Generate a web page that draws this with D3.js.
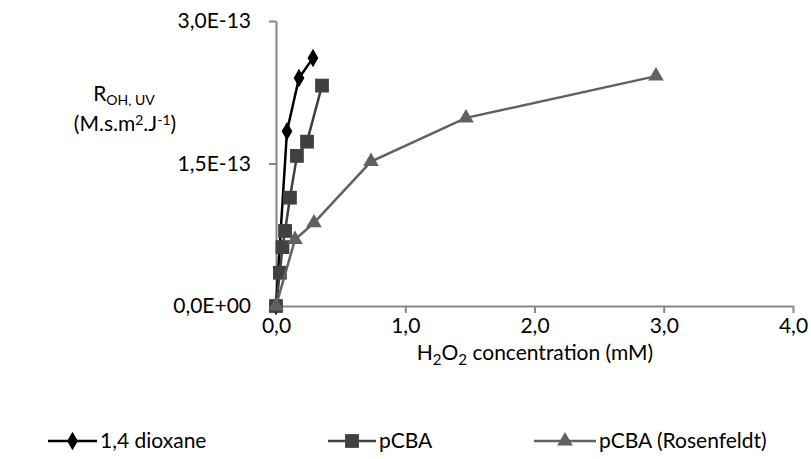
<!DOCTYPE html>
<html>
<head>
<meta charset="utf-8">
<script src="https://cdn.jsdelivr.net/npm/d3@7"></script>
<style>
  body { margin: 0; background: #fff; }
  text { font-family: Lato, "Open Sans", sans-serif; fill: #000; }
</style>
</head>
<body>
<svg width="811" height="459"></svg>
<script>
// values
var dioxaneX = [0, 0.085, 0.178, 0.286];
var dioxaneY = [0, 1.84e-13, 2.40e-13, 2.61e-13];

var pcbaX = [0, 0.03, 0.05, 0.07, 0.108, 0.162, 0.24, 0.356];
var pcbaY = [0, 0.35e-13, 0.62e-13, 0.79e-13, 1.14e-13, 1.58e-13, 1.73e-13, 2.32e-13];

var rosenX = [0, 0.147, 0.294, 0.735, 1.47, 2.94];
var rosenY = [0, 0.70e-13, 0.875e-13, 1.52e-13, 1.98e-13, 2.42e-13];

var xTicks = [0, 1, 2, 3, 4];
var yTicks = [0, 1.5e-13, 3.0e-13];
var yTickLabels = ['0,0E+00', '1,5E-13', '3,0E-13'];

var svg = d3.select('svg');

var x = d3.scaleLinear().domain([0, 4]).range([276, 793]);
var y = d3.scaleLinear().domain([0, 3e-13]).range([306, 21]);

var axisColor = '#868686';
var fs = 21;

// x axis
var xAxis = svg.append('g')
  .attr('transform', 'translate(0,' + y(0) + ')')
  .call(d3.axisBottom(x).tickValues(xTicks).tickSize(7).tickSizeOuter(0)
    .tickFormat(function (d) { return d3.format('.1f')(d).replace('.', ','); }));
xAxis.select('.domain').attr('stroke', axisColor).attr('stroke-width', 2);
xAxis.selectAll('.tick line').attr('stroke', axisColor).attr('stroke-width', 2);
xAxis.selectAll('.tick text').attr('font-size', fs).attr('y', 9).attr('dy', '0.85em').attr('font-family', 'Lato');

// y axis
var yAxis = svg.append('g')
  .attr('transform', 'translate(' + x(0) + ',0)')
  .call(d3.axisLeft(y).tickValues(yTicks).tickSize(7).tickSizeOuter(0)
    .tickFormat(function (d, i) { return yTickLabels[i]; }));
yAxis.select('.domain').attr('stroke', axisColor).attr('stroke-width', 2);
yAxis.selectAll('.tick line').attr('stroke', axisColor).attr('stroke-width', 2);
yAxis.selectAll('.tick text').attr('font-size', fs).attr('x', -25).attr('font-family', 'Lato');

// series
var series = [
  { name: '1,4 dioxane', xs: dioxaneX, ys: dioxaneY, color: '#000000', marker: d3.symbolDiamond, size: 100, width: 2.5 },
  { name: 'pCBA', xs: pcbaX, ys: pcbaY, color: '#404040', marker: d3.symbolSquare, size: 190, width: 2.5 },
  { name: 'pCBA (Rosenfeldt)', xs: rosenX, ys: rosenY, color: '#616161', marker: d3.symbolTriangle, size: 105, width: 2.5 }
];

var line = d3.line().x(function (d) { return x(d[0]); }).y(function (d) { return y(d[1]); });

series.forEach(function (s) {
  var pts = s.xs.map(function (v, i) { return [v, s.ys[i]]; });
  var g = svg.append('g');
  g.append('path').datum(pts)
    .attr('d', line)
    .attr('fill', 'none')
    .attr('stroke', s.color)
    .attr('stroke-width', s.width);
  g.selectAll('path.m').data(pts).enter().append('path')
    .attr('class', 'm')
    .attr('d', d3.symbol().type(s.marker).size(s.size))
    .attr('transform', function (d) { return 'translate(' + x(d[0]) + ',' + y(d[1]) + ')'; })
    .attr('fill', s.color);
});

// axis titles
svg.append('text')
  .attr('x', 535).attr('y', 360)
  .attr('text-anchor', 'middle')
  .attr('font-size', fs)
  .html('H<tspan font-size="15" dy="5">2</tspan><tspan dy="-5">O</tspan><tspan font-size="15" dy="5">2</tspan><tspan dy="-5"> concentration (mM)</tspan>');

svg.append('text')
  .attr('x', 124).attr('y', 101)
  .attr('text-anchor', 'middle')
  .attr('font-size', fs)
  .html('R<tspan font-size="14" dy="4">OH, UV</tspan>');

svg.append('text')
  .attr('x', 125).attr('y', 131)
  .attr('text-anchor', 'middle')
  .attr('font-size', fs)
  .html('(M.s.m<tspan font-size="14" dy="-6">2</tspan><tspan dy="6">.J</tspan><tspan font-size="14" dy="-6">-1</tspan><tspan dy="6">)</tspan>');

// legend
var legendX = [48, 328, 534];
var legendLen = [49, 48, 62];
var leg = svg.append('g');
series.forEach(function (s, i) {
  var lx = legendX[i], ly = 441;
  leg.append('line')
    .attr('x1', lx).attr('x2', lx + legendLen[i])
    .attr('y1', ly).attr('y2', ly)
    .attr('stroke', s.color).attr('stroke-width', s.width);
  leg.append('path')
    .attr('d', d3.symbol().type(s.marker).size(s.size))
    .attr('transform', 'translate(' + (lx + legendLen[i] / 2) + ',' + ly + ')')
    .attr('fill', s.color);
  leg.append('text')
    .attr('x', lx + legendLen[i] + 3).attr('y', ly + 7)
    .attr('font-size', fs)
    .text(s.name);
});
</script>
</body>
</html>
